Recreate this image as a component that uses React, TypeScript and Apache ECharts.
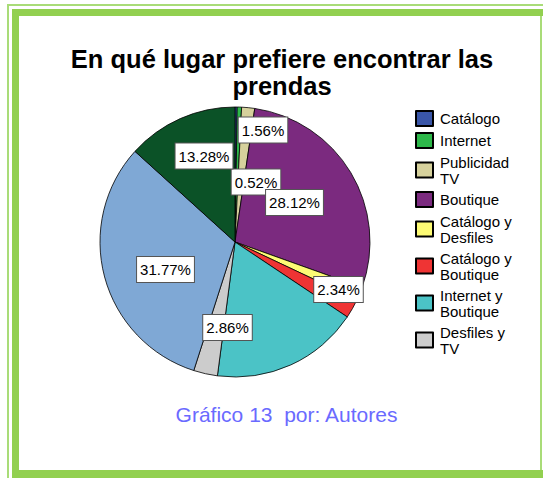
import React, { useEffect, useRef } from "react";
import * as echarts from "echarts";

const categories = [
  "Catálogo",
  "Internet",
  "Publicidad TV",
  "Boutique",
  "Catálogo y Desfiles",
  "Catálogo y Boutique",
  "Internet y Boutique",
  "Desfiles y TV",
  "Catálogo e Internet",
  "Todos",
];
const percents = [0.26, 0.52, 1.56, 28.12, 1.56, 2.34, 17.71, 2.86, 31.77, 13.28];
const legendNames = categories.slice(0, 8);
const labeledIdx = [1, 2, 3, 5, 7, 8, 9];

const colors = [
  "#3a56a8",
  "#2db84a",
  "#d6d19c",
  "#7b2a7f",
  "#fdfb74",
  "#ef3434",
  "#4bc3c6",
  "#cccccc",
  "#7fa8d5",
  "#0b5227",
];
// label box centres (pixels)
const labelPos: Record<number, [number, number]> = {
  1: [256, 182],
  2: [263, 130],
  3: [294.5, 202.5],
  5: [338.5, 289.5],
  7: [227.5, 327.5],
  8: [165.5, 269.5],
  9: [204, 156],
};

export default function App() {
  const ref = useRef<HTMLDivElement>(null);
  useEffect(() => {
    const chart = echarts.init(ref.current!, null, { renderer: "svg" });
    const thick = "#92d050";
    const thin = "#a9dc78";
    chart.setOption({
      animation: false,
      title: {
        text: "En qué lugar prefiere encontrar las\nprendas",
        left: 282,
        top: 45,
        padding: 0,
        textAlign: "center",
        textStyle: {
          fontFamily: "Liberation Sans, Arial, sans-serif",
          fontSize: 25.5,
          fontWeight: "bold",
          color: "#000",
          lineHeight: 27,
        },
      },
      legend: {
        orient: "vertical",
        left: 415,
        top: 110,
        padding: 0,
        itemWidth: 17,
        itemHeight: 15,
        itemGap: 5,
        icon: "rect",
        data: legendNames,
        selectedMode: false,
        formatter: (name: string) => name.replace(/ (TV|Desfiles|Boutique)$/, "\n$1"),
        textStyle: {
          fontFamily: "Liberation Sans, Arial, sans-serif",
          fontSize: 15,
          lineHeight: 16,
          color: "#000",
          padding: [0, 0, 0, 2],
        },
      },
      graphic: [
        { type: "rect", shape: { x: 7, y: 4, width: 536, height: 2 }, style: { fill: thin } },
        { type: "rect", shape: { x: 7, y: 4, width: 2, height: 474 }, style: { fill: thin } },
        { type: "rect", shape: { x: 12, y: 9, width: 531, height: 7 }, style: { fill: thick } },
        { type: "rect", shape: { x: 12, y: 9, width: 7, height: 469 }, style: { fill: thick } },
        { type: "rect", shape: { x: 12, y: 470, width: 531, height: 8 }, style: { fill: thick } },
        { type: "rect", shape: { x: 540, y: 16, width: 2, height: 454 }, style: { fill: thin } },
        {
          type: "text",
          x: 286.5,
          y: 414,
          style: {
            text: "Gráfico 13  por: Autores",
            fill: "#6a6aff",
            fontSize: 21,
            fontFamily: "Liberation Sans, Arial, sans-serif",
            textAlign: "center",
            textVerticalAlign: "middle",
          },
        },
      ],
      series: [
        {
          type: "pie",
          center: [235, 242],
          radius: 135,
          startAngle: 90,
          clockwise: true,
          avoidLabelOverlap: false,
          legendHoverLink: false,
          data: categories.map((name, i) => ({
            name,
            value: percents[i],
            itemStyle: { color: colors[i] },
            label: { show: labeledIdx.includes(i) },
          })),
          itemStyle: { borderColor: "#000", borderWidth: 0.8 },
          labelLine: { show: false },
          label: {
            position: "inside",
            formatter: (p: any) => `${Number(p.value).toFixed(2)}%`,
            fontFamily: "Liberation Sans, Arial, sans-serif",
            fontSize: 15,
            lineHeight: 17,
            color: "#000",
            backgroundColor: "#fff",
            borderColor: "#555",
            borderWidth: 1,
            padding: [4, 3, 4, 3],
          },
          labelLayout: (params: any) => {
            const pos = labelPos[params.dataIndex];
            if (!pos) return {};
            return { x: pos[0], y: pos[1], align: "center", verticalAlign: "middle" };
          },
        },
      ],
    });
    return () => chart.dispose();
  }, []);
  return (
    <div
      ref={ref}
      style={{ position: "fixed", left: 0, top: 0, width: 543, height: 478, background: "#fff" }}
    />
  );
}
